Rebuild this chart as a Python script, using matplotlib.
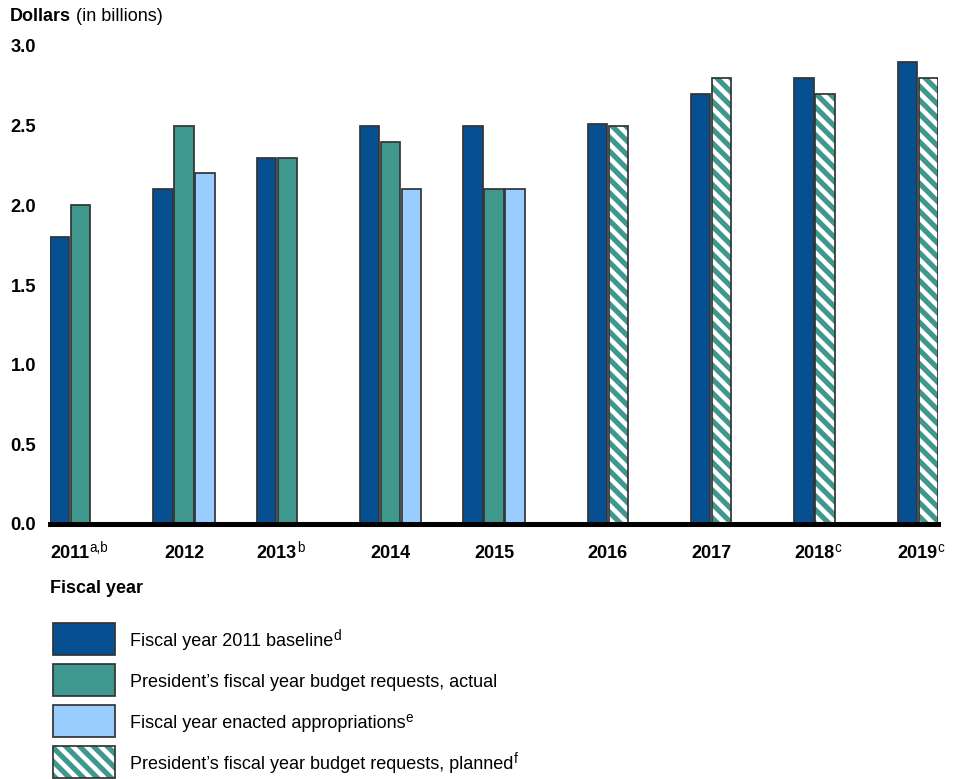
import numpy as np
import matplotlib
matplotlib.use("Agg")
import matplotlib.pyplot as plt
from matplotlib.patches import Rectangle

plt.rcParams['font.family'] = ['Liberation Sans', 'DejaVu Sans']
plt.rcParams['hatch.linewidth'] = 3.0

# data (billions of dollars), None = no bar
years = ['2011', '2012', '2013', '2014', '2015', '2016', '2017', '2018', '2019']
year_notes = ['a,b', '', 'b', '', '', '', '', 'c', 'c']
baseline = [1.8, 2.1, 2.3, 2.5, 2.5, 2.51, 2.7, 2.8, 2.9]
requests_actual = [2.0, 2.5, 2.3, 2.4, 2.1, None, None, None, None]
enacted = [None, 2.2, None, 2.1, 2.1, None, None, None, None]
requests_planned = [None, None, None, None, None, 2.5, 2.8, 2.7, 2.8]

legend_labels = ['Fiscal year 2011 baseline', "President\u2019s fiscal year budget requests, actual",
                 'Fiscal year enacted appropriations', "President\u2019s fiscal year budget requests, planned"]
legend_notes = ['d', '', 'e', 'f']

dark = '#064F90'
teal = '#3F978E'
light = '#99CCFF'
edge = '#333333'
HATCH = '\\\\\\'

W, H, DPI = 962, 779, 125
fig = plt.figure(figsize=(W / DPI, H / DPI), dpi=DPI)

slot = 0.203
width = 0.188
ax = fig.add_axes([50 / W, 1 - 524 / H, 888 / W, 478 / H])


def draw_bar(x, h, kind):
    if kind == 'planned':
        ax.bar(x, h, width, align='edge', color='white', edgecolor=teal, hatch=HATCH, linewidth=0, zorder=2)
        ax.bar(x, h, width, align='edge', fill=False, edgecolor=edge, linewidth=1.0, zorder=3)
    else:
        col = {'baseline': dark, 'actual': teal, 'enacted': light}[kind]
        ax.bar(x, h, width, align='edge', color=col, edgecolor=edge, linewidth=1.0, zorder=2)


def superscript(t, note):
    # raised footnote letter right after a text
    t.axes.annotate(note, xy=(1, 0), xycoords=t, xytext=(0, 5.6), textcoords='offset points',
                    ha='left', va='baseline', fontsize=7.8)


centers = []
for i in range(len(years)):
    has_planned = requests_planned[i] is not None
    xs = []
    base_slot = 1 if has_planned else 0
    x = i + base_slot * slot
    draw_bar(x, baseline[i], 'baseline')
    xs.append(x)
    if requests_actual[i] is not None:
        x = i + 1 * slot
        draw_bar(x, requests_actual[i], 'actual')
        xs.append(x)
    if enacted[i] is not None:
        x = i + 2 * slot
        draw_bar(x, enacted[i], 'enacted')
        xs.append(x)
    if has_planned:
        x = i + 2 * slot
        draw_bar(x, requests_planned[i], 'planned')
        xs.append(x)
    centers.append((min(xs) + max(xs) + width) / 2)

ax.set_xlim(0, len(years) - 1 + 2 * slot + width)
ax.set_ylim(0, 3.0)
ax.axhline(0, color='black', linewidth=2.9, zorder=4, clip_on=False)
for s in ax.spines.values():
    s.set_visible(False)
ax.set_xticks([])
ax.set_yticks(np.arange(0, 3.01, 0.5))
ax.set_yticklabels([f'{v:.1f}' for v in np.arange(0, 3.01, 0.5)], fontsize=10.6, fontweight='bold')
ax.tick_params(axis='y', length=0, pad=8)

# year labels with footnote superscripts
for c, yr, note in zip(centers, years, year_notes):
    t = ax.text(c, -34 / 478, yr, transform=ax.get_xaxis_transform(), ha='center', va='baseline',
                fontsize=10.4, fontweight='bold')
    if note:
        superscript(t, note)

# overlay in pixel coordinates for titles and legend
ov = fig.add_axes([0, 0, 1, 1])
ov.set_xlim(0, W)
ov.set_ylim(H, 0)
ov.axis('off')

t1 = ov.text(10, 21, 'Dollars', fontsize=10.4, fontweight='bold', va='baseline', ha='left')
ov.annotate(' (in billions)', xy=(1, 0), xycoords=t1, va='bottom', ha='left', fontsize=10.4)
ov.text(50, 593, 'Fiscal year', fontsize=10.4, fontweight='bold', va='baseline', ha='left')

kinds = ['baseline', 'actual', 'enacted', 'planned']
for k, (lab, note, kind) in enumerate(zip(legend_labels, legend_notes, kinds)):
    top = 623 + 41 * k
    if kind == 'planned':
        ov.add_patch(Rectangle((53, top), 62, 32, facecolor='white', edgecolor=teal, hatch=HATCH, linewidth=0))
        ov.add_patch(Rectangle((53, top), 62, 32, fill=False, edgecolor=edge, linewidth=1.0))
    else:
        col = {'baseline': dark, 'actual': teal, 'enacted': light}[kind]
        ov.add_patch(Rectangle((53, top), 62, 32, facecolor=col, edgecolor=edge, linewidth=1.0))
    t = ov.text(130, top + 23, lab, fontsize=10.4, va='baseline', ha='left')
    if note:
        superscript(t, note)

fig.savefig('out.png', dpi=DPI)
